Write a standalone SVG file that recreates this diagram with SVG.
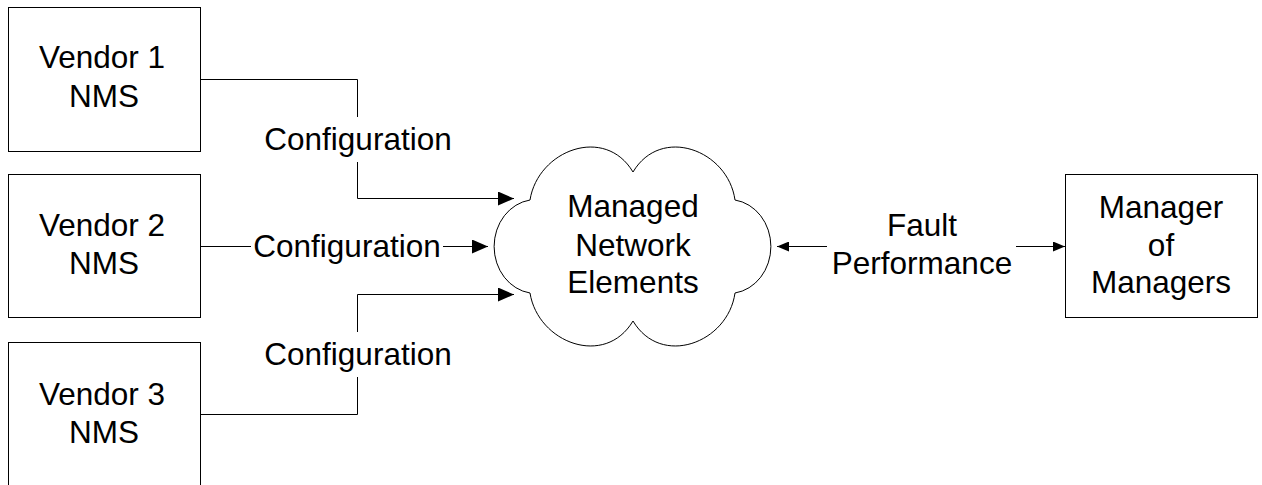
<svg xmlns="http://www.w3.org/2000/svg" width="1262" height="485" viewBox="0 0 1262 485">
<style>
.box{fill:#fff;stroke:#000;stroke-width:1}
.ln{fill:none;stroke:#000;stroke-width:1}
.t{font-family:"Liberation Sans",Arial,sans-serif;font-size:31.5px;fill:#000;text-anchor:middle}
</style>
<defs>
<marker id="big" markerWidth="16" markerHeight="14" refX="16" refY="7" orient="auto" markerUnits="userSpaceOnUse"><path d="M0,0 L16,7 L0,14 Z" fill="#000"/></marker>
<marker id="small" markerWidth="12" markerHeight="10" refX="12" refY="5" orient="auto" markerUnits="userSpaceOnUse"><path d="M0,0 L12,5 L0,10 Z" fill="#000"/></marker>
</defs>
<rect width="1262" height="485" fill="#fff"/>
<g id="connectors">
<path class="ln" d="M200,79.5 H357.5 V117"/>
<path class="ln" d="M357.5,162 V198.5 H514" marker-end="url(#big)"/>
<path class="ln" d="M200,246.5 H251"/>
<path class="ln" d="M443,246.5 H488" marker-end="url(#big)"/>
<path class="ln" d="M200,414.5 H357.5 V377"/>
<path class="ln" d="M357.5,332 V294.5 H514" marker-end="url(#big)"/>
<path class="ln" d="M827,246.5 H777" marker-end="url(#small)"/>
<path class="ln" d="M1016,246.5 H1065" marker-end="url(#small)"/>
<text class="t" x="358" y="150">Configuration</text>
<text class="t" x="347" y="257">Configuration</text>
<text class="t" x="358" y="365">Configuration</text>
<text class="t" x="922" y="236">Fault</text>
<text class="t" x="922" y="274">Performance</text>
</g>
<g id="vendor1">
<rect class="box" x="8.5" y="7.5" width="192" height="144"/>
<text class="t" x="102" y="68">Vendor 1</text>
<text class="t" x="104" y="107">NMS</text>
</g>
<g id="vendor2">
<rect class="box" x="8.5" y="174.5" width="192" height="143"/>
<text class="t" x="102" y="236">Vendor 2</text>
<text class="t" x="104" y="274">NMS</text>
</g>
<g id="vendor3">
<rect class="box" x="8.5" y="342.5" width="192" height="144"/>
<text class="t" x="102" y="405">Vendor 3</text>
<text class="t" x="104" y="443">NMS</text>
</g>
<g id="cloud">
<path class="box" d="M530,200 C538,150 605,125 633,172 C661,125 728,150 735,200 A42,47 0 0,1 735,293 C728,343 661,368 633,321 C605,368 538,343 530,293 A42,47 0 0,1 530,200 Z"/>
<text class="t" x="633" y="217">Managed</text>
<text class="t" x="633" y="256">Network</text>
<text class="t" x="633" y="293">Elements</text>
</g>
<g id="manager">
<rect class="box" x="1065.5" y="174.5" width="192" height="143"/>
<text class="t" x="1161" y="218">Manager</text>
<text class="t" x="1161" y="256">of</text>
<text class="t" x="1161" y="293">Managers</text>
</g>
</svg>
